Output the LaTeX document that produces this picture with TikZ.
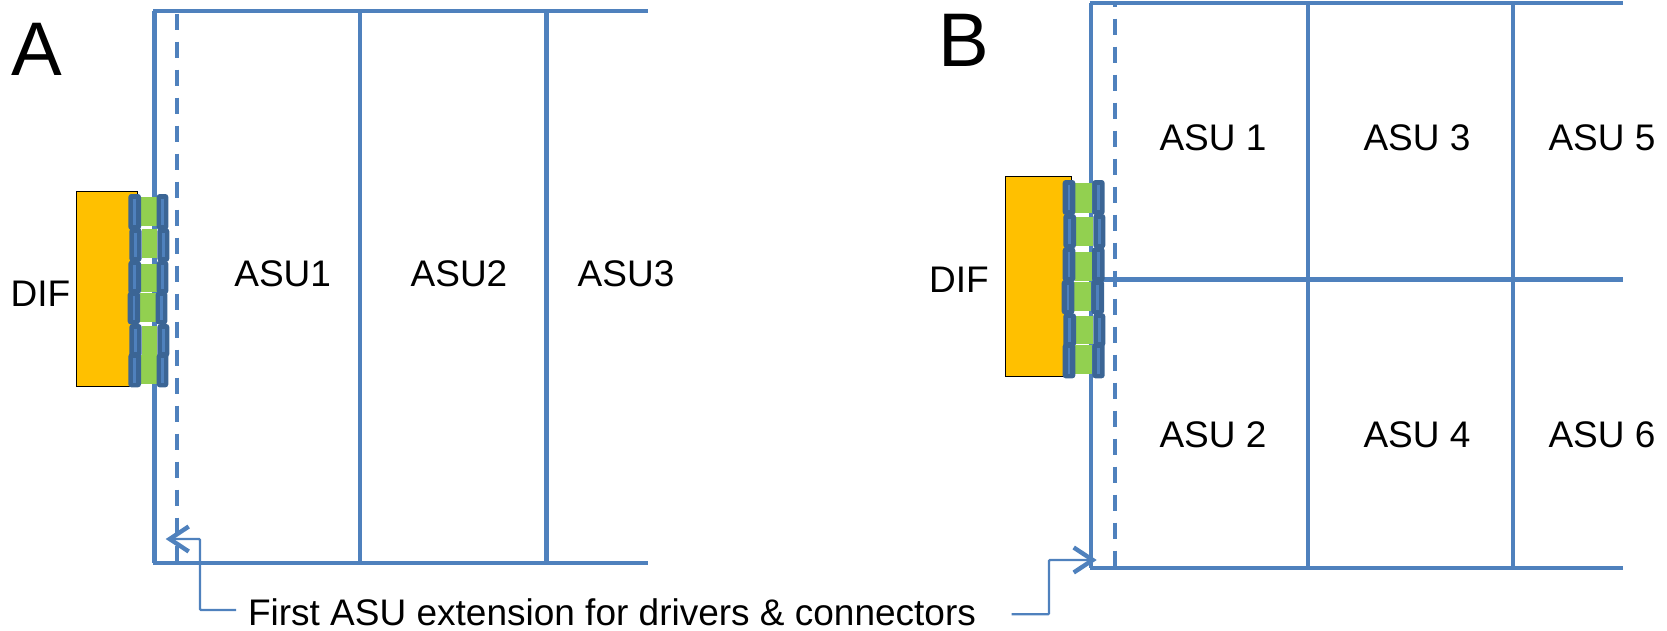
\documentclass[tikz,border=0pt]{standalone}
\usepackage{fontspec}
\setmainfont{Liberation Sans}
\usetikzlibrary{arrows.meta}
\definecolor{linec}{HTML}{4F81BD}
\definecolor{barc}{HTML}{3B6595}
\definecolor{greenc}{HTML}{92D050}
\definecolor{orangec}{HTML}{FFC000}
\tikzset{
  wall/.style={draw=linec,line width=4.4pt},
  dashline/.style={draw=linec,line width=4.4pt,dash pattern=on 16pt off 12pt},
  leader/.style={draw=linec,line width=2.2pt,-{Straight Barb[length=19pt,width=25pt,line width=4.4pt]}},
  body/.style={font=\fontsize{37}{41}\selectfont,inner sep=0pt,anchor=center},
  big/.style={font=\fontsize{76}{80}\selectfont,inner sep=0pt,anchor=center},
  conbar/.style={draw=none,fill=barc,rounded corners=3pt},
  conmid/.style={draw=linec,line width=2.6pt},
  pad/.style={fill=greenc,draw=none},
  dif/.style={fill=orangec,draw=black,line width=1pt}
}
\newcommand{\cunit}[9]{%
  \fill[pad] (#3,#8) rectangle (#4,#9);
  \path[conbar] (#1,#6) rectangle (#2,#7);
  \draw[conmid] ({(#1+#2)/2},{#6+14}) -- ({(#1+#2)/2},{#7-14});
  \path[conbar] (#4,#6) rectangle (#5,#7);
  \draw[conmid] ({(#4+#5)/2},{#6+14}) -- ({(#4+#5)/2},{#7-14});
}
\begin{document}
\begin{tikzpicture}[x=1pt,y=-1pt]
\useasboundingbox (0,0) rectangle (1667,630);
% panel A
\draw[wall] (154.5,11) -- (154.5,563);
\draw[wall] (153,11) -- (648,11);
\draw[wall] (153,563) -- (648,563);
\draw[wall] (360,11) -- (360,563);
\draw[wall] (546.5,11) -- (546.5,563);
\draw[dashline] (177,13.7) -- (177,563);
% panel B
\draw[wall] (1091,3) -- (1091,568);
\draw[wall] (1089.5,3) -- (1623,3);
\draw[wall] (1089.5,568) -- (1623,568);
\draw[wall] (1091,279.5) -- (1623,279.5);
\draw[wall] (1308,3) -- (1308,568);
\draw[wall] (1513,3) -- (1513,568);
\draw[dashline,dash phase=12.3pt] (1114.7,3) -- (1114.7,568);
% DIF boards
\node[dif,minimum width=61pt,minimum height=195pt,inner sep=0pt,anchor=north west] (difA) at (75.7,190.7) {};
\node[dif,minimum width=65.5pt,minimum height=200pt,inner sep=0pt,anchor=north west] (difB) at (1005,176.3) {};
% connectors A
\begin{scope}[shift={(60,170)},x=0.33333pt,y=-0.33333pt]
\cunit{205}{243}{243}{290}{325}{72}{180}{82}{168}
\cunit{208}{245}{245}{292}{328}{175}{275}{178}{265}
\cunit{205}{243}{243}{290}{325}{272}{372}{282}{365}
\cunit{203}{240}{240}{287}{322}{365}{463}{368}{455}
\cunit{208}{245}{245}{292}{328}{462}{561}{468}{555}
\cunit{205}{243}{243}{290}{325}{550}{652}{555}{642}
\end{scope}
% connectors B
\begin{scope}[shift={(990,160)},x=0.33333pt,y=-0.33333pt]
\cunit{218}{256}{256}{307}{344}{60}{165}{70}{158}
\cunit{220}{258}{258}{310}{346}{162}{265}{170}{258}
\cunit{218}{256}{256}{306}{344}{262}{365}{275}{362}
\cunit{215}{253}{253}{304}{342}{360}{463}{365}{452}
\cunit{220}{258}{258}{310}{346}{460}{560}{467}{553}
\cunit{218}{256}{256}{307}{344}{550}{655}{555}{642}
\end{scope}
% labels
\node[big] (tagA) at (36.5,49) {A};
\node[big] (tagB) at (963.5,40) {B};
\node[body] (lblDifA) at (40.5,294) {DIF};
\node[body] (lblDifB) at (959,280) {DIF};
\node[body] (asuA1) at (282.7,274) {ASU1};
\node[body] (asuA2) at (459,274) {ASU2};
\node[body] (asuA3) at (626,274) {ASU3};
\node[body] (asuB1) at (1213,138) {ASU 1};
\node[body] (asuB3) at (1417,138) {ASU 3};
\node[body] (asuB5) at (1602,138) {ASU 5};
\node[body] (asuB2) at (1213,435) {ASU 2};
\node[body] (asuB4) at (1417,435) {ASU 4};
\node[body] (asuB6) at (1602,435) {ASU 6};
\node[body] (note) at (612,612) {First ASU extension for drivers \& connectors};
% leaders
\coordinate (startA) at (236,610);
\coordinate (tipA) at (165.7,539);
\coordinate (startB) at (1011.7,614.3);
\coordinate (tipB) at (1096.7,560);
\draw[leader,rounded corners=1pt] (startA) -- (200,610) -- (200,539) -- (tipA);
\draw[leader,rounded corners=1pt] (startB) -- (1049,614.3) -- (1049,560) -- (tipB);
\end{tikzpicture}
\end{document}
